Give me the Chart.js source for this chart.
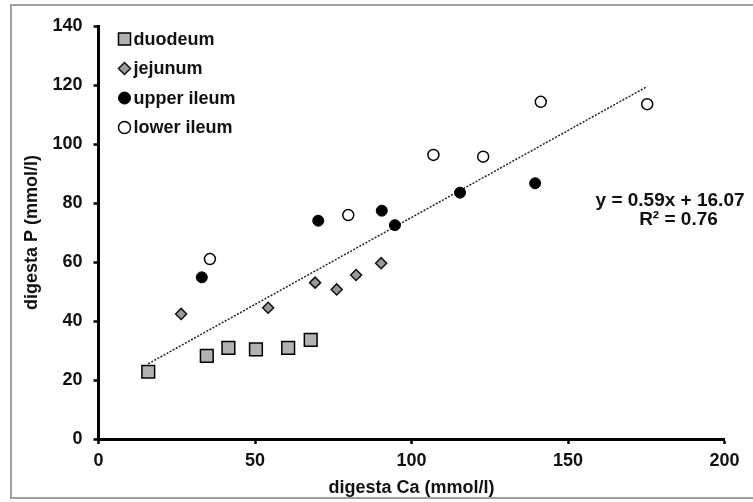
<!DOCTYPE html>
<html>
<head>
<meta charset="utf-8">
<script src="https://cdn.jsdelivr.net/npm/chart.js@4.4.1/dist/chart.umd.min.js"></script>
<style>
  body { margin: 0; background: #fff; }
</style>
</head>
<body>
<canvas id="js--chart" width="753" height="502"></canvas>
<script>
// values (digesta Ca / digesta P, mmol/l)
const seriesNames = ["duodeum", "jejunum", "upper ileum", "lower ileum"];

const duodeumCa = [15.9, 34.6, 41.5, 50.3, 60.6, 67.8];
const duodeumP = [22.8, 28.2, 30.9, 30.4, 30.9, 33.6];

const jejunumCa = [26.4, 54.2, 69.2, 76.1, 82.3, 90.3];
const jejunumP = [42.4, 44.5, 53.0, 50.7, 55.6, 59.6];

const upperIleumCa = [33.0, 70.2, 90.5, 94.7, 115.5, 139.5];
const upperIleumP = [54.8, 74.0, 77.4, 72.5, 83.5, 86.7];

const lowerIleumCa = [35.6, 79.8, 107.0, 122.9, 141.3, 175.3];
const lowerIleumP = [61.0, 75.9, 96.3, 95.7, 114.3, 113.5];

// trendline ends as drawn in the figure
const trendCa = [15.9, 175.3];
const trendP = [25.5, 119.5];

const equationLines = ["y = 0.59x + 16.07", "R\u00B2 = 0.76"];

const xTicks = [0, 50, 100, 150, 200];
const yTicks = [0, 20, 40, 60, 80, 100, 120, 140];

function toPoints(xs, ys) {
    return xs.map(function(x, i){ return {x: x, y: ys[i]}; });
}

const fontFamily = "'Liberation Sans', Arial, sans-serif";
const textColor = '#111';

const datasets = [
    {
        label: seriesNames[0],
        data: toPoints(duodeumCa, duodeumP),
        pointStyle: 'rect',
        pointRadius: 9,
        backgroundColor: '#b2b2b2',
        borderColor: '#000',
        borderWidth: 1.5
    },
    {
        label: seriesNames[1],
        data: toPoints(jejunumCa, jejunumP),
        pointStyle: 'rectRot',
        pointRadius: 5.5,
        backgroundColor: '#999999',
        borderColor: '#111',
        borderWidth: 1.5
    },
    {
        label: seriesNames[2],
        data: toPoints(upperIleumCa, upperIleumP),
        pointStyle: 'circle',
        pointRadius: 5.5,
        backgroundColor: '#000',
        borderColor: '#000',
        borderWidth: 1
    },
    {
        label: seriesNames[3],
        data: toPoints(lowerIleumCa, lowerIleumP),
        pointStyle: 'circle',
        pointRadius: 5.5,
        backgroundColor: '#fff',
        borderColor: '#000',
        borderWidth: 1.5
    },
    {
        label: 'trend',
        data: toPoints(trendCa, trendP),
        showLine: true,
        pointRadius: 0,
        borderColor: '#222',
        borderWidth: 1.5,
        borderDash: [2, 1.5],
        fill: false
    }
];

// grey frame round the whole figure
const framePlugin = {
    id: 'frame',
    beforeDraw(chart) {
        const ctx = chart.ctx;
        ctx.save();
        ctx.fillStyle = '#fff';
        ctx.fillRect(0, 0, chart.width, chart.height);
        ctx.strokeStyle = '#a0a0a0';
        ctx.lineWidth = 2;
        ctx.strokeRect(11, 5, chart.width + 10, 493);
        ctx.restore();
    }
};

// legend inside the plot, top left
const insideLegend = {
    id: 'insideLegend',
    afterDraw(chart) {
        const ctx = chart.ctx;
        const area = chart.chartArea;
        ctx.save();
        ctx.font = 'bold 18px ' + fontFamily;
        ctx.textBaseline = 'middle';
        ctx.textAlign = 'left';
        chart.data.datasets.forEach(function(ds, i){
            if (i >= seriesNames.length) return;
            const y = area.top + 13 + i * 29.5;
            const x = area.left + 26;
            ctx.fillStyle = ds.backgroundColor;
            ctx.strokeStyle = ds.borderColor;
            ctx.lineWidth = ds.borderWidth;
            Chart.helpers.drawPoint(ctx, {
                pointStyle: ds.pointStyle,
                radius: ds.pointStyle === 'rect' ? 8.5 : 6,
                rotation: 0,
                borderWidth: ds.borderWidth
            }, x, y);
            ctx.fillStyle = textColor;
            ctx.fillText(ds.label, x + 9, y + 1);
        });
        ctx.restore();
    }
};

// trendline equation
const equationPlugin = {
    id: 'equation',
    afterDraw(chart) {
        const ctx = chart.ctx;
        const xs = chart.scales.x, ys = chart.scales.y;
        ctx.save();
        ctx.font = 'bold 19px ' + fontFamily;
        ctx.fillStyle = textColor;
        ctx.textAlign = 'center';
        ctx.textBaseline = 'middle';
        ctx.fillText(equationLines[0], xs.getPixelForValue(182.6), ys.getPixelForValue(80.7));
        ctx.fillText(equationLines[1], xs.getPixelForValue(185.3), ys.getPixelForValue(74.2));
        ctx.restore();
    }
};

const axisFont = {family: fontFamily, size: 18, weight: 'bold'};

const config = {
    type: 'scatter',
    data: {datasets: datasets},
    options: {
        responsive: false,
        animation: false,
        layout: {padding: {top: 26, right: 28.5, left: 0, bottom: 0}},
        plugins: {
            legend: {display: false},
            tooltip: {enabled: false}
        },
        scales: {
            x: {
                type: 'linear',
                position: 'bottom',
                min: 0,
                max: 200,
                afterBuildTicks: function(scale){ scale.ticks = xTicks.map(function(v){ return {value: v}; }); },
                afterFit: function(scale){ scale.height = 63; },
                ticks: {color: textColor, font: axisFont, padding: 6, maxRotation: 0},
                grid: {drawOnChartArea: false, drawTicks: true, tickLength: 5, tickColor: '#000', tickWidth: 2.5},
                border: {display: true, color: '#000', width: 3},
                title: {display: true, text: 'digesta Ca (mmol/l)', color: textColor, font: axisFont, padding: {top: 0, bottom: 3}}
            },
            y: {
                type: 'linear',
                min: 0,
                max: 140,
                afterBuildTicks: function(scale){ scale.ticks = yTicks.map(function(v){ return {value: v}; }); },
                afterFit: function(scale){ scale.width = 98.5; },
                ticks: {color: textColor, font: axisFont, padding: 11},
                grid: {drawOnChartArea: false, drawTicks: true, tickLength: 5, tickColor: '#000', tickWidth: 2.5},
                border: {display: true, color: '#000', width: 3},
                title: {display: true, text: 'digesta P (mmol/l)', color: textColor, font: axisFont, padding: {top: 21, bottom: 0}}
            }
        }
    },
    plugins: [framePlugin, insideLegend, equationPlugin]
};

new Chart(document.getElementById("js--chart"), config);
</script>
</body>
</html>
